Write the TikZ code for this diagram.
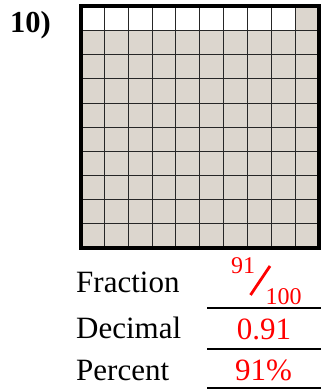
\documentclass[tikz,border=0pt]{standalone}
\usepackage{fontspec}
\setmainfont{Liberation Serif}
\usetikzlibrary{positioning}
\definecolor{cellfill}{RGB}{220,214,206}
\tikzset{
  qnum/.style={anchor=base west, inner sep=0pt, font=\fontsize{30.5}{30}\selectfont\bfseries},
  lbl/.style={anchor=base west, inner sep=0pt, font=\fontsize{31}{31}\selectfont},
  ans/.style={anchor=base, inner sep=0pt, text=red, font=\fontsize{31}{31}\selectfont},
  fracpart/.style={anchor=base, inner sep=0pt, text=red, font=\fontsize{24}{24}\selectfont},
  ansline/.style={line width=2pt, draw=black},
  gridln/.style={line width=1.1pt, draw=black!85},
  border/.style={line width=4pt, draw=black},
}

\begin{document}
\begin{tikzpicture}[x=1pt, y=-1pt]
\useasboundingbox (0,0) rectangle (321,390);

% hundred grid
\def\gx{80.5}\def\gy{6.5}\def\cw{23.85}\def\ch{24.15}
\fill[cellfill] (\gx,\gy) rectangle ++(10*\cw,10*\ch);
\fill[white] (\gx,\gy) rectangle ++(9*\cw,\ch);
\foreach \i in {1,...,9} {
  \draw[gridln] (\gx+\i*\cw,\gy) -- ++(0,10*\ch);
  \draw[gridln] (\gx,\gy+\i*\ch) -- ++(10*\cw,0);
}
\draw[border] (\gx,\gy) rectangle ++(10*\cw,10*\ch);

\node[qnum] (num) at (10,33) {10)};

% answers
\node[lbl] (frac) at (76,292) {Fraction};
\node[lbl] (dec) at (76,338) {Decimal};
\node[lbl] (pct) at (76,380) {Percent};

\node[fracpart] (fnum) at (243,273) {91};
\node[fracpart] (fden) at (283.5,304) {100};
\draw[red, line width=2.8pt] (250.5,295) -- (270,266);

\node[ans] (decval) at (264,339) {0.91};
\node[ans] (pctval) at (263.5,380) {91\%};

\draw[ansline] (207,308) -- (321,308);
\draw[ansline] (207,349) -- (321,349);
\draw[ansline] (207,388) -- (321,388);
\end{tikzpicture}
\end{document}
